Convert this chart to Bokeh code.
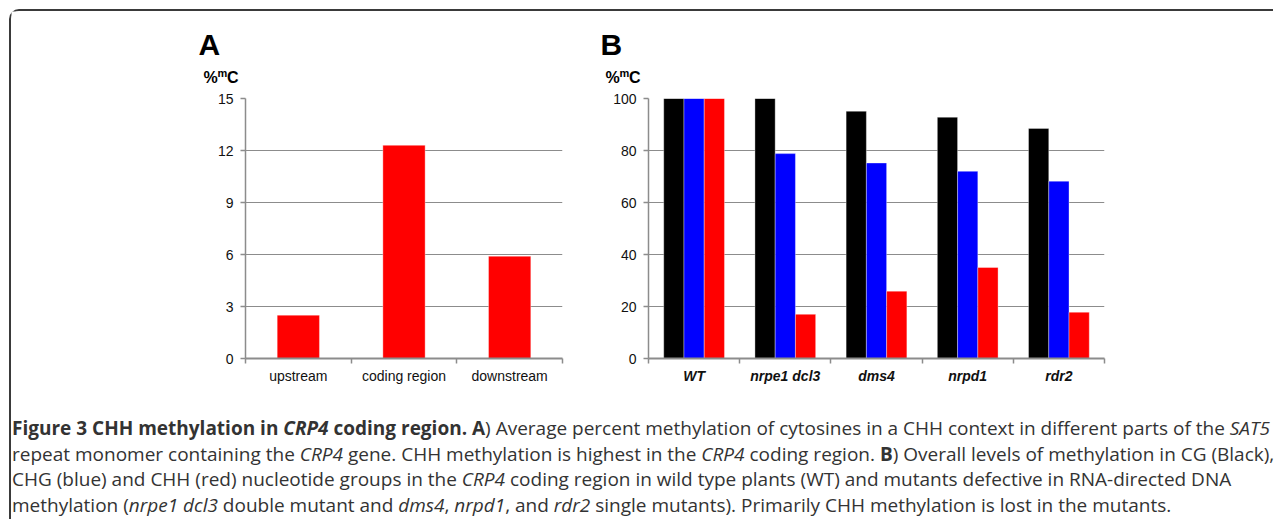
from bokeh.plotting import figure
from bokeh.models import Range1d, FixedTicker, Div, ColumnDataSource
from bokeh.layouts import row, column
from bokeh.core.properties import value
from bokeh.embed import file_html
from bokeh.resources import INLINE

# ---------------- data ----------------
regions = ["upstream", "coding region", "downstream"]
chh_regions = [2.5, 12.3, 5.9]
a_yticks = [0, 3, 6, 9, 12, 15]

genotypes = ["WT", "nrpe1 dcl3", "dms4", "nrpd1", "rdr2"]
cg = [100, 100, 95.1, 92.8, 88.5]
chg = [100, 78.8, 75.2, 72.0, 68.2]
chh = [100, 17.0, 25.9, 35.0, 17.8]
b_yticks = [0, 20, 40, 60, 80, 100]

panel_letters = ["A", "B"]

caption_lines = [
    "<b>Figure 3 CHH methylation in <i>CRP4</i> coding region. A</b>) Average percent methylation of cytosines in a CHH context in different parts of the <i>SAT5</i>",
    "repeat monomer containing the <i>CRP4</i> gene. CHH methylation is highest in the <i>CRP4</i> coding region. <b>B</b>) Overall levels of methylation in CG (Black),",
    "CHG (blue) and CHH (red) nucleotide groups in the <i>CRP4</i> coding region in wild type plants (WT) and mutants defective in RNA-directed DNA",
    "methylation (<i>nrpe1 dcl3</i> double mutant and <i>dms4</i>, <i>nrpd1</i>, and <i>rdr2</i> single mutants). Primarily CHH methylation is lost in the mutants.",
]

GRID = "#8c8c8c"
FONT = "Liberation Sans"
HEAD_W = 1261
HEAD_H = 79
BAR_EDGE = dict(line_color="white", line_alpha=0.35, line_width=1)


def style(p, yticks, cats, label_style):
    n = len(cats)
    p.xgrid.grid_line_color = None
    p.ygrid.grid_line_color = GRID
    p.ygrid.grid_line_width = 1
    p.yaxis.ticker = FixedTicker(ticks=yticks)
    p.xaxis.ticker = FixedTicker(ticks=[i + 0.5 for i in range(n)],
                                 minor_ticks=list(range(n + 1)))
    p.xaxis.major_label_overrides = {i + 0.5: c for i, c in enumerate(cats)}
    for ax in (p.xaxis, p.yaxis):
        ax.axis_line_color = GRID
        ax.major_label_text_font = FONT
        ax.major_label_text_font_size = "14px"
        ax.major_label_text_color = "#111111"
        ax.major_tick_line_color = GRID
        ax.minor_tick_line_color = GRID
    p.xaxis.axis_line_width = 2
    p.yaxis.axis_line_width = 1.5
    p.yaxis.major_tick_out = 5
    p.yaxis.major_tick_in = 0
    p.yaxis.major_tick_line_width = 1.5
    p.yaxis.minor_tick_line_color = None
    p.yaxis.major_label_standoff = 7
    p.xaxis.major_tick_out = 0
    p.xaxis.major_tick_in = 0
    p.xaxis.minor_tick_out = 5
    p.xaxis.minor_tick_in = 0
    p.xaxis.minor_tick_line_width = 1.5
    p.xaxis.major_label_standoff = 4
    p.xaxis.major_label_text_font_style = label_style
    p.outline_line_color = None


# ---------------- header: panel letters and unit labels ----------------
# pixel-like ranges (y grows downward)
head = figure(width=HEAD_W, height=HEAD_H, x_range=Range1d(0, HEAD_W), y_range=Range1d(HEAD_H, 0),
              output_backend="svg", toolbar_location=None, x_axis_type=None, y_axis_type=None,
              min_border=0, min_border_left=0, min_border_right=0, min_border_top=0,
              min_border_bottom=0)
head.grid.grid_line_color = None
head.outline_line_color = None
common = dict(text_font=value(FONT), text_font_style="bold", text_baseline="alphabetic",
              text_align="left", text_color="black")
for letter, x0 in zip(panel_letters, (192, 594)):
    head.text(x=[x0 - 5], y=[33], text=[letter], text_font_size="30px", **common)
    head.text(x=[x0], y=[66], text=["%"], text_font_size="16px", **common)
    head.text(x=[x0 + 14], y=[61], text=["m"], text_font_size="11px", **common)
    head.text(x=[x0 + 23.5], y=[66], text=["C"], text_font_size="16px", **common)

# ---------------- panel A ----------------
pa = figure(width=570, height=308, x_range=Range1d(0, len(regions)), y_range=Range1d(0, 15),
            output_backend="svg", toolbar_location=None,
            min_border_left=234, min_border_right=19, min_border_top=8, min_border_bottom=40)
src_a = ColumnDataSource(dict(x=[i + 0.5 for i in range(len(regions))], top=chh_regions))
pa.vbar(x="x", top="top", width=0.4, bottom=0, source=src_a, fill_color="#ff0000", **BAR_EDGE)
style(pa, a_yticks, regions, "normal")

# ---------------- panel B ----------------
pb = figure(width=691, height=308, x_range=Range1d(0, len(genotypes)), y_range=Range1d(0, 100),
            output_backend="svg", toolbar_location=None,
            min_border_left=67, min_border_right=168, min_border_top=8, min_border_bottom=40)
bw = 0.222
centers = [i + 0.5 for i in range(len(genotypes))]
for vals, off, color in ((cg, -bw, "#000000"), (chg, 0.0, "#0000ff"), (chh, bw, "#ff0000")):
    src = ColumnDataSource(dict(x=[c + off for c in centers], top=vals))
    pb.vbar(x="x", top="top", width=bw, bottom=0, source=src, fill_color=color, **BAR_EDGE)
style(pb, b_yticks, genotypes, "bold italic")

caption = Div(text="<br>".join(caption_lines), width=1262, height=121, margin=(0, 0, 0, 0),
              styles={"font-family": "'Open Sans'", "font-size": "19px", "color": "#333333",
                      "line-height": "25.5px", "white-space": "nowrap", "padding-left": "1px",
                      "padding-top": "18px"})

layout = column(head, row(pa, pb), caption, margin=(9, 0, 0, 9),
                styles={"border-top": "2px solid #3a3a3a", "border-left": "2px solid #3a3a3a",
                        "border-top-left-radius": "10px"})

open("out.html", "w").write(file_html(layout, INLINE))
